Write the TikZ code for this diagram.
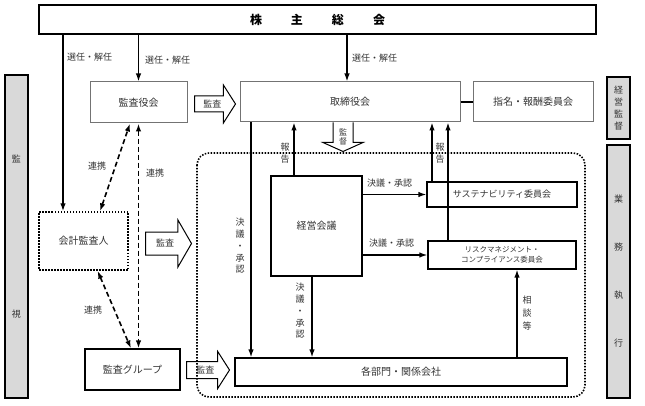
\documentclass[tikz,border=0pt]{standalone}
\usepackage{fontspec}
\setmainfont{Noto Sans CJK JP}
\usetikzlibrary{positioning, arrows.meta, shapes.arrows}

\begin{document}
\begin{tikzpicture}[
    % GLOBAL CFG
    x=1pt, y=-1pt,
    font=\fontsize{10}{12}\selectfont,
    >={Latex[length=8pt,width=5.5pt]},
    text=black!80,
    % Styles
    box/.style={% Plain boxes
        rectangle,
        draw,
        line width=1.2pt,
        align=center,
        },
    graybox/.style={% Boxes of the board level
        rectangle,
        draw=black!55,
        line width=1pt,
        },
    bar/.style={% Grey side bars
        rectangle,
        draw,
        line width=1.2pt,
        fill=black!15,
        align=center,
        font=\fontsize{9}{12}\selectfont,
        },
    blockarrow/.style={% Hollow arrows for audits
        single arrow,
        draw,
        line width=1pt,
        anchor=tail,
        text height=7.5pt, text depth=1pt,
        inner xsep=2pt,
        font=\fontsize{9}{10}\selectfont,
        },
    lbl/.style={% Labels next to connectors
        font=\fontsize{9}{11}\selectfont,
        inner sep=1pt,
        },
    vlbl/.style={% Vertical labels
        font=\fontsize{9}{11.75}\selectfont,
        align=center,
        inner sep=1pt,
        },
    ArrowC1/.style={% Solid connectors
        line width=1.4pt,
        },
    ArrowC2/.style={% Dashed connectors
        line width=1.6pt,
        dash pattern=on 5pt off 3pt,
        },
    ]

\useasboundingbox (0,0) rectangle (645,406);

%Start drawing the thing...
    % Executive area
    \draw [line width=1.6pt, dash pattern=on 1.5pt off 1.5pt, rounded corners=12pt]
        (197,153) rectangle (585,397);

    % Shareholders
    \node [box, line width=1.5pt, minimum width=557, minimum height=29, text=black,
        font=\fontsize{12}{14}\selectfont\bfseries] (gm) at (317.5,19.5)
        {株\hspace{29pt}主\hspace{29pt}総\hspace{29pt}会};

    % Board level
    \node [graybox, minimum width=97, minimum height=41] (kansayaku) at (138.5,102.5) {監査役会};
    \node [graybox, minimum width=220, minimum height=40] (torishimari) at (350,102) {取締役会};
    \node [graybox, minimum width=120, minimum height=40] (shimei) at (533,102) {指名・報酬委員会};

    % Side bars
    \node [bar, minimum width=23, minimum height=323] (kanshi) at (16.5,236.5) {監\\[143pt]視};
    \node [bar, minimum width=23, minimum height=62] (keieikantoku) at (618.5,108) {経\\営\\監\\督};
    \node [bar, minimum width=23, minimum height=253] (gyomu) at (618.5,271.5) {業\\[36pt]務\\[36pt]執\\[36pt]行};

    % Audit side
    \node [box, line width=1.4pt, dash pattern=on 1.5pt off 1.5pt, minimum width=89, minimum height=58] (kaikei) at (83.5,241) {会計監査人};
    \node [box, minimum width=95, minimum height=41] (kansag) at (132.5,369.5) {監査グループ};

    % Executive side
    \node [box, minimum width=91, minimum height=100] (keiei) at (316.5,226) {経営会議};
    \node [box, minimum width=150, minimum height=25, font=\fontsize{9}{11}\selectfont] (sustain) at (502,194.5) {サステナビリティ委員会};
    \node [box, minimum width=148, minimum height=28, font=\fontsize{7.5}{10}\selectfont] (risk) at (502,255)
        {リスクマネジメント・\\コンプライアンス委員会};
    \node [box, minimum width=332, minimum height=28] (kakubu) at (401,372) {各部門・関係会社};

    % Hollow arrows
    \node [blockarrow, minimum height=41, inner ysep=3.25pt, single arrow head extend=11pt,
        single arrow tip angle=115] (audit1) at (194,104) {監査};
    \node [blockarrow, minimum height=46, inner ysep=6.75pt, single arrow head extend=12pt,
        single arrow tip angle=120] (audit2) at (145,243.5) {監査};
    \node [blockarrow, minimum height=43, inner ysep=3.75pt, single arrow head extend=10pt,
        single arrow tip angle=115] (audit3) at (186,370) {監査};

    \coordinate (kt) at ([xshift=-7.5pt]torishimari.south);
    \draw [line width=1pt] (kt) ++(-9.5,0) -- ++(0,20) -- ++(-10,0) -- ++(20,9)
        -- ++(20,-9) -- ++(-10,0) -- ++(0,-20);
    \node [font=\fontsize{8}{9}\selectfont, align=center, inner sep=0pt] (kantoku) at (343,137) {監\\督};

% Start connecting all.
    % From the shareholders
    \coordinate (c1) at ([xshift=-20.5pt]kaikei.north);
    \draw [->, ArrowC1] (gm.south -| c1) -- (c1);
    \draw [->, ArrowC1] (gm.south -| kansayaku.north) -- (kansayaku.north);
    \draw [->, ArrowC1] ([xshift=-3pt]torishimari.north |- gm.south) -- ([xshift=-3pt]torishimari.north);
    \node [lbl, anchor=west] (sen1) at (66,57) {選任・解任};
    \node [lbl, anchor=west] (sen2) at (144,60) {選任・解任};
    \node [lbl, anchor=west] (sen3) at (351,58) {選任・解任};

    \draw [ArrowC1] (torishimari.east) -- (shimei.west);

    % Cooperation
    \draw [<->, ArrowC2] ([xshift=16.5pt]kaikei.north) -- ([xshift=-8.5pt]kansayaku.south);
    \draw [<->, ArrowC2] (kansayaku.south) -- (kansayaku.south |- kansag.north);
    \draw [<->, ArrowC2] ([xshift=14pt]kaikei.south) -- ([xshift=-1.5pt]kansag.north);
    \node [lbl] (ren1) at (97,166) {連携};
    \node [lbl] (ren2) at (155,173) {連携};
    \node [lbl] (ren3) at (93,310) {連携};

    % Internal
    \coordinate (c2) at ([xshift=-150pt]kakubu.north);
    \draw [->, ArrowC1] (torishimari.south -| c2) -- (c2);
    \node [vlbl] (ket1) at (240,246) {決\\議\\・\\承\\認};

    \coordinate (c3) at ([xshift=-22.5pt]keiei.north);
    \draw [->, ArrowC1] (c3) -- (torishimari.south -| c3);
    \node [vlbl, font=\fontsize{9}{12}\selectfont] (hou1) at (285,153) {報\\告};

    \coordinate (c4) at ([xshift=-4.5pt]keiei.south);
    \draw [->, ArrowC1] (c4) -- (kakubu.north -| c4);
    \node [vlbl] (ket2) at (300,311) {決\\議\\・\\承\\認};

    \draw [->, ArrowC1] (keiei.east |- sustain.west) -- (sustain.west);
    \node [lbl, anchor=west] (ket3) at (366,183) {決議・承認};
    \draw [->, ArrowC1] (keiei.east |- risk.west) -- (risk.west);
    \node [lbl, anchor=west] (ket4) at (368,243) {決議・承認};

    \coordinate (c5) at ([xshift=-70pt]sustain.north);
    \draw [->, ArrowC1] (c5) -- (torishimari.south -| c5);
    \coordinate (c6) at ([xshift=-54pt]risk.north);
    \draw [->, ArrowC1] (c6) -- (torishimari.south -| c6);
    \node [vlbl, font=\fontsize{9}{12}\selectfont] (hou2) at (440,153) {報\\告};

    \coordinate (c7) at ([xshift=15pt]risk.south);
    \draw [->, ArrowC1] (kakubu.north -| c7) -- (c7);
    \node [vlbl, font=\fontsize{9}{13}\selectfont] (sou) at (527,313) {相\\談\\等};

\end{tikzpicture}
\end{document}
